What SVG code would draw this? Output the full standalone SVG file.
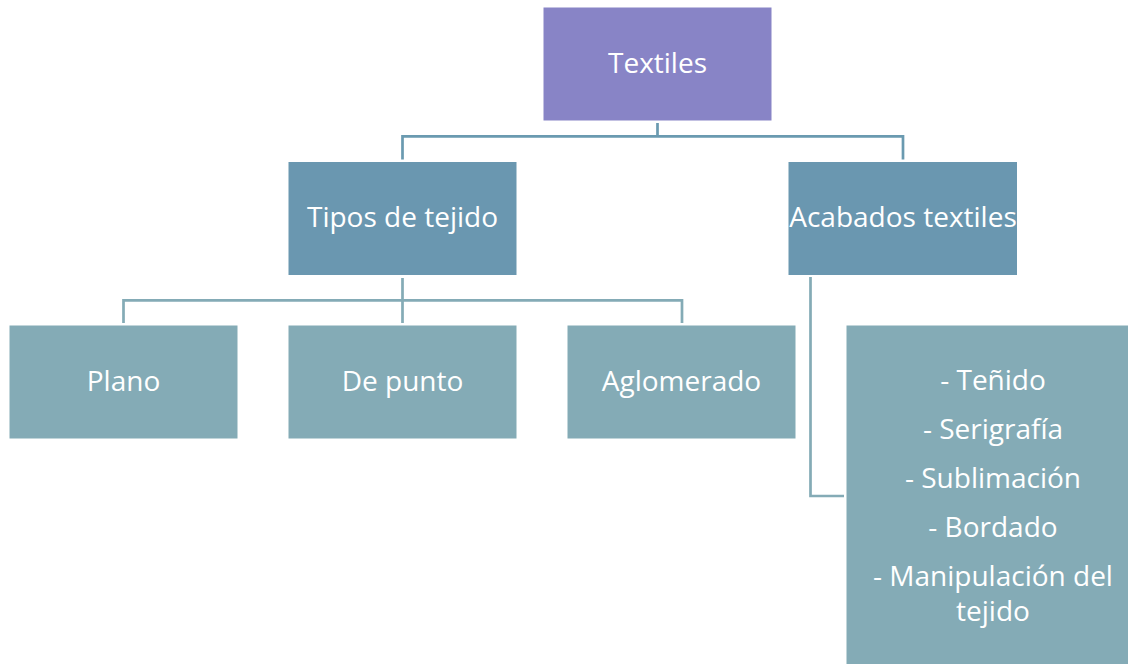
<svg xmlns="http://www.w3.org/2000/svg" width="1128" height="664" viewBox="0 0 1128 664">
<style>
text{font-family:"Open Sans","Liberation Sans",sans-serif;font-size:28px;fill:#fff;text-anchor:middle}
.c{fill:none;stroke:#6a9ab0;stroke-width:2.700}
.d{fill:none;stroke:#84abb6;stroke-width:2.700}
.l1{fill:#8884c6}.l2{fill:#6a97b0}.l3{fill:#84abb6}
</style>
<rect width="1128" height="664" fill="#fff"/>
<g id="connectors">
<path class="c" d="M657.500 123V136.300H402.500V159.500M657.500 136.300H903V159.500"/>
<path class="d" d="M402.500 278V300.300H123.500V323M402.500 300.300V323M402.500 300.300H682V323"/>
<path class="d" d="M810.500 277V496H844"/>
</g>
<g id="textiles"><rect class="l1" x="543.500" y="7.500" width="228" height="113"/><text x="657.500" y="73">Textiles</text></g>
<g id="tipos"><rect class="l2" x="288.500" y="162" width="228" height="113"/><text x="402.500" y="227">Tipos de tejido</text></g>
<g id="acabados"><rect class="l2" x="788.500" y="162" width="228.500" height="113"/><text x="903" y="227">Acabados textiles</text></g>
<g id="plano"><rect class="l3" x="9.500" y="325.500" width="228" height="113"/><text x="123.500" y="391">Plano</text></g>
<g id="depunto"><rect class="l3" x="288.500" y="325.500" width="228" height="113"/><text x="402.500" y="391">De punto</text></g>
<g id="aglomerado"><rect class="l3" x="567.500" y="325.500" width="228" height="113"/><text x="681.500" y="391">Aglomerado</text></g>
<g id="lista"><rect class="l3" x="846.500" y="325.500" width="281.500" height="338.500"/>
<text x="993" y="390">- Teñido</text><text x="993" y="439">- Serigrafía</text><text x="993" y="488">- Sublimación</text><text x="993" y="537">- Bordado</text><text x="993" y="586">- Manipulación del</text><text x="993" y="621">tejido</text></g>
</svg>
